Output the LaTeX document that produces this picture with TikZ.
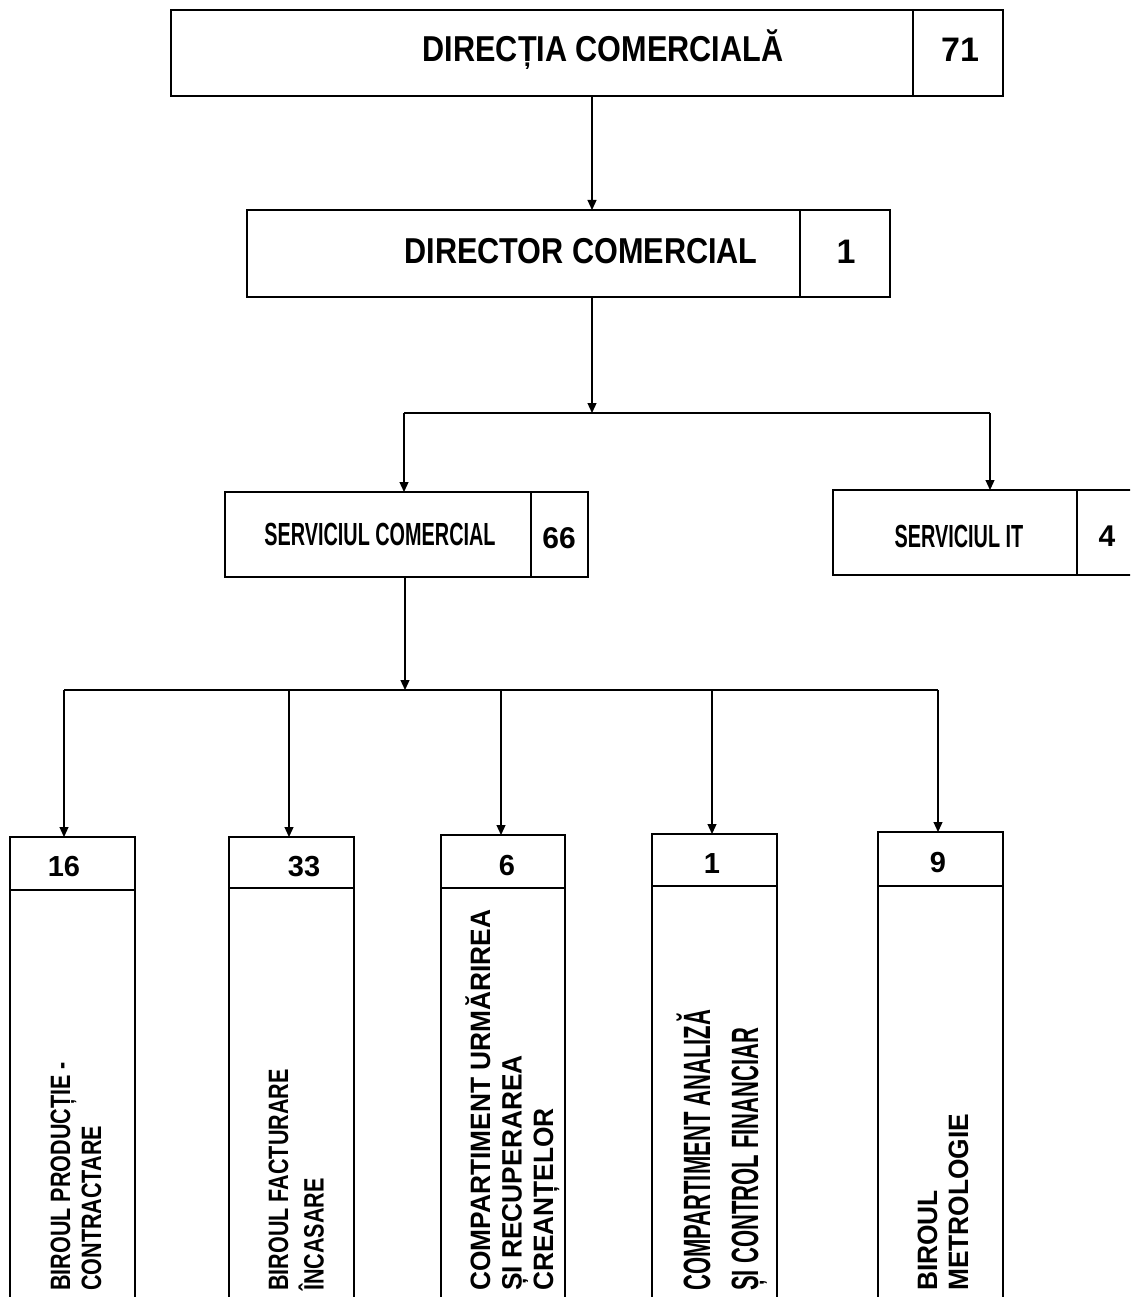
\documentclass[tikz,border=0pt]{standalone}
\usepackage{fontspec}
\setmainfont{Liberation Sans}
\usetikzlibrary{arrows.meta}
\newfontfamily\fHead[FakeStretch=0.85]{Liberation Sans}
\newfontfamily\fServ[FakeStretch=0.62]{Liberation Sans}
\newfontfamily\fNum{Liberation Sans}
\newfontfamily\fRotA[FakeStretch=0.77]{Liberation Sans}
\newfontfamily\fRotB[FakeStretch=0.94]{Liberation Sans}
\newfontfamily\fRotC[FakeStretch=0.58]{Liberation Sans}
\newcommand\fsz[2]{\fontsize{#1pt}{#2pt}\selectfont}
\begin{document}
\begin{tikzpicture}[x=1pt,y=-1pt,
  box/.style={draw=black, line width=1.3pt, inner sep=0pt, outer sep=0pt, anchor=north west},
  arr/.style={line width=1.2pt, -{Triangle[length=10pt,width=9pt]}},
  ln/.style={line width=1.2pt},
  txt/.style={inner sep=0pt, anchor=base},
  rot/.style={inner sep=0pt, rotate=90, anchor=base west, align=left}]
\useasboundingbox (0,0) rectangle (1130,1297);
\fill[white] (0,0) rectangle (1130,1297);
\clip (0,0) rectangle (1130,1297);
% level 1
\node[box, minimum width=742pt, minimum height=86pt] (dc) at (171,10) {};
\node[box, minimum width=90pt, minimum height=86pt] (dcn) at (913,10) {};
\node[txt] (dct) at (603,62) {\fHead\bfseries\fsz{36}{40}DIRECȚIA COMERCIALĂ};
\node[txt] (dcnt) at (960,62) {\fNum\bfseries\fsz{34}{40}71};
% level 2
\node[box, minimum width=553pt, minimum height=87pt] (dr) at (247,210) {};
\node[box, minimum width=90pt, minimum height=87pt] (drn) at (800,210) {};
\node[txt] (drt) at (581,263) {\fHead\bfseries\fsz{36}{40}DIRECTOR COMERCIAL};
\node[txt] (drnt) at (846,263) {\fNum\bfseries\fsz{34}{40}1};
% level 3
\node[box, minimum width=306pt, minimum height=85pt] (sc) at (225,492) {};
\node[box, minimum width=57pt, minimum height=85pt] (scn) at (531,492) {};
\node[txt] (sct) at (380,545) {\fServ\bfseries\fsz{32}{36}SERVICIUL COMERCIAL};
\node[txt] (scnt) at (559,548) {\fNum\bfseries\fsz{30}{36}66};
\node[box, minimum width=244pt, minimum height=85pt] (it) at (833,490) {};
\node[box, minimum width=80pt, minimum height=85pt] (itn) at (1077,490) {};
\node[txt] (itt) at (959,547) {\fServ\bfseries\fsz{32}{36}SERVICIUL IT};
\node[txt] (itnt) at (1107,546) {\fNum\bfseries\fsz{30}{36}4};
% level 4 headers and bodies
\node[box, minimum width=125pt, minimum height=53pt] (h1) at (10,837) {};
\node[box, minimum width=125pt, minimum height=440pt] (b1) at (10,890) {};
\node[box, minimum width=125pt, minimum height=51pt] (h2) at (229,837) {};
\node[box, minimum width=125pt, minimum height=440pt] (b2) at (229,888) {};
\node[box, minimum width=124pt, minimum height=53pt] (h3) at (441,835) {};
\node[box, minimum width=124pt, minimum height=440pt] (b3) at (441,888) {};
\node[box, minimum width=125pt, minimum height=52pt] (h4) at (652,834) {};
\node[box, minimum width=125pt, minimum height=440pt] (b4) at (652,886) {};
\node[box, minimum width=125pt, minimum height=54pt] (h5) at (878,832) {};
\node[box, minimum width=125pt, minimum height=440pt] (b5) at (878,886) {};
\node[txt] (n1) at (64,876) {\fNum\bfseries\fsz{29}{30}16};
\node[txt] (n2) at (304,876) {\fNum\bfseries\fsz{29}{30}33};
\node[txt] (n3) at (507,875) {\fNum\bfseries\fsz{29}{30}6};
\node[txt] (n4) at (712,873) {\fNum\bfseries\fsz{29}{30}1};
\node[txt] (n5) at (938,872) {\fNum\bfseries\fsz{29}{30}9};
% rotated labels
\node[rot] (r1) at (70,1291) {\fRotA\bfseries\fsz{28}{31}\begin{tabular}[t]{@{}l@{}}BIROUL PRODUCȚIE -\\CONTRACTARE\end{tabular}};
\node[rot] (r2) at (288,1291) {\fRotA\bfseries\fsz{28}{35}\begin{tabular}[t]{@{}l@{}}BIROUL FACTURARE\\ÎNCASARE\end{tabular}};
\node[rot] (r3) at (490,1291) {\fRotB\bfseries\fsz{28}{31.5}\begin{tabular}[t]{@{}l@{}}COMPARTIMENT URMĂRIREA\\ȘI RECUPERAREA\\CREANȚELOR\end{tabular}};
\node[rot] (r4) at (710,1291) {\fRotC\bfseries\fsz{38}{48}\begin{tabular}[t]{@{}l@{}}COMPARTIMENT ANALIZĂ\\ȘI CONTROL FINANCIAR\end{tabular}};
\node[rot] (r5) at (937,1291) {\fRotB\bfseries\fsz{28}{31}\begin{tabular}[t]{@{}l@{}}BIROUL\\METROLOGIE\end{tabular}};
% connectors
\coordinate (c1) at (592,0);
\coordinate (j1) at (592,413);
\coordinate (c2) at (404,0);
\coordinate (c3) at (990,0);
\coordinate (j2) at (405,690);
\coordinate (d1) at (64,0);
\coordinate (d2) at (289,0);
\coordinate (d3) at (501,0);
\coordinate (d4) at (712,0);
\coordinate (d5) at (938,0);
\draw[arr] (dc.south -| c1) -- (dr.north -| c1);
\draw[arr] (dr.south -| c1) -- (j1);
\draw[ln] (c2 |- j1) -- (c3 |- j1);
\draw[arr] (c2 |- j1) -- (sc.north -| c2);
\draw[arr] (c3 |- j1) -- (it.north -| c3);
\draw[arr] (sc.south -| j2) -- (j2);
\draw[ln] (d1 |- j2) -- (d5 |- j2);
\draw[arr] (d1 |- j2) -- (h1.north -| d1);
\draw[arr] (d2 |- j2) -- (h2.north -| d2);
\draw[arr] (d3 |- j2) -- (h3.north -| d3);
\draw[arr] (d4 |- j2) -- (h4.north -| d4);
\draw[arr] (d5 |- j2) -- (h5.north -| d5);
\end{tikzpicture}
\end{document}
